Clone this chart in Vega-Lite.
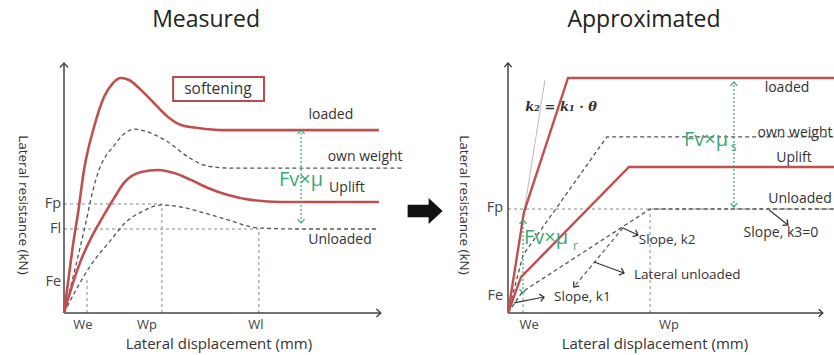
{
  "$schema": "https://vega.github.io/schema/vega-lite/v6.json",
  "autosize": {"type": "pad"},
  "padding": 0,
  "background": "white",
  "config": {"view": {"stroke": null}, "font": "Open Sans"},
  "spacing": 124,
  "bounds": "flush",
  "hconcat": [
    {
      "width": 320,
      "height": 253,
      "encoding": {
        "x": {"field": "x", "type": "quantitative", "scale": {"domain": [0, 100], "nice": false, "zero": false}, "axis": null},
        "y": {"field": "y", "type": "quantitative", "scale": {"domain": [0, 100], "nice": false, "zero": false}, "axis": null}
      },
      "layer": [
        {
          "data": {"values": [{"x": -19.69, "y": 123.4, "x2": -19.4, "y2": 123.7}]},
          "mark": {"type": "rect", "opacity": 0},
          "encoding": {"x2": {"field": "x2"}, "y2": {"field": "y2"}}
        },
        {
          "data": {"values": [
            {"x": 0, "y": 43.1, "x2": 30.6, "y2": 43.1},
            {"x": 0, "y": 33.2, "x2": 60.9, "y2": 33.2},
            {"x": 7.2, "y": 0, "x2": 7.2, "y2": 13},
            {"x": 30.6, "y": 0, "x2": 30.6, "y2": 43.1},
            {"x": 60.9, "y": 0, "x2": 60.9, "y2": 33.2}
          ]},
          "mark": {"type": "rule", "color": "#7d8a99", "strokeDash": [3, 3], "strokeWidth": 1},
          "encoding": {"x2": {"field": "x2"}, "y2": {"field": "y2"}}
        },
        {
          "data": {"values": [
            {"x": 0, "y": 0, "x2": 0, "y2": 98.8},
            {"x": 0, "y": 0, "x2": 99, "y2": 0}
          ]},
          "mark": {"type": "rule", "color": "#444", "strokeWidth": 1.5},
          "encoding": {"x2": {"field": "x2"}, "y2": {"field": "y2"}}
        },
        {
          "data": {"values": [
            {"x": 0, "y": 98.8, "a": 0},
            {"x": 99, "y": 0, "a": 90}
          ]},
          "mark": {"type": "point", "shape": "M-1,1.1L0,0L1,1.1", "size": 64, "filled": false, "color": "#444", "strokeWidth": 1.4, "opacity": 1},
          "encoding": {"angle": {"field": "a", "type": "quantitative", "scale": null}}
        },
        {
          "data": {"values": [
            {"c": "own weight", "i": 0, "x": 0, "y": 0},
            {"c": "own weight", "i": 1, "x": 3.75, "y": 19.0},
            {"c": "own weight", "i": 2, "x": 6.88, "y": 36.0},
            {"c": "own weight", "i": 3, "x": 9.06, "y": 48.6},
            {"c": "own weight", "i": 4, "x": 10.9, "y": 56.5},
            {"c": "own weight", "i": 5, "x": 13.1, "y": 62.1},
            {"c": "own weight", "i": 6, "x": 15.3, "y": 65.6},
            {"c": "own weight", "i": 7, "x": 18.4, "y": 70.4},
            {"c": "own weight", "i": 8, "x": 21.9, "y": 72.7},
            {"c": "own weight", "i": 9, "x": 26.25, "y": 71.5},
            {"c": "own weight", "i": 10, "x": 32.5, "y": 67.6},
            {"c": "own weight", "i": 11, "x": 38.75, "y": 61.7},
            {"c": "own weight", "i": 12, "x": 43.75, "y": 58.5},
            {"c": "own weight", "i": 13, "x": 51.25, "y": 57.3},
            {"c": "own weight", "i": 14, "x": 105.9, "y": 57.3},
            {"c": "unloaded", "i": 0, "x": 0, "y": 0},
            {"c": "unloaded", "i": 1, "x": 3.75, "y": 9.1},
            {"c": "unloaded", "i": 2, "x": 8.44, "y": 19.0},
            {"c": "unloaded", "i": 3, "x": 14.7, "y": 28.9},
            {"c": "unloaded", "i": 4, "x": 19.4, "y": 36.0},
            {"c": "unloaded", "i": 5, "x": 24.1, "y": 39.9},
            {"c": "unloaded", "i": 6, "x": 30.6, "y": 42.7},
            {"c": "unloaded", "i": 7, "x": 36.6, "y": 41.9},
            {"c": "unloaded", "i": 8, "x": 42.8, "y": 39.9},
            {"c": "unloaded", "i": 9, "x": 51.25, "y": 36.8},
            {"c": "unloaded", "i": 10, "x": 60.9, "y": 33.6},
            {"c": "unloaded", "i": 11, "x": 74.1, "y": 33.2},
            {"c": "unloaded", "i": 12, "x": 98.4, "y": 33.2}
          ]},
          "mark": {"type": "line", "interpolate": "monotone", "color": "#555", "strokeDash": [4, 3], "strokeWidth": 1.3},
          "encoding": {"detail": {"field": "c"}, "order": {"field": "i", "type": "quantitative"}}
        },
        {
          "data": {"values": [
            {"c": "loaded", "i": 0, "x": 0, "y": 0},
            {"c": "loaded", "i": 1, "x": 1.56, "y": 15.0},
            {"c": "loaded", "i": 2, "x": 2.81, "y": 26.9},
            {"c": "loaded", "i": 3, "x": 4.38, "y": 39.5},
            {"c": "loaded", "i": 4, "x": 6.25, "y": 56.5},
            {"c": "loaded", "i": 5, "x": 9.38, "y": 73.5},
            {"c": "loaded", "i": 6, "x": 12.5, "y": 85.4},
            {"c": "loaded", "i": 7, "x": 15.3, "y": 90.9},
            {"c": "loaded", "i": 8, "x": 17.8, "y": 92.9},
            {"c": "loaded", "i": 9, "x": 20.3, "y": 92.1},
            {"c": "loaded", "i": 10, "x": 24.1, "y": 88.1},
            {"c": "loaded", "i": 11, "x": 28.1, "y": 83.0},
            {"c": "loaded", "i": 12, "x": 32.5, "y": 77.5},
            {"c": "loaded", "i": 13, "x": 36.6, "y": 74.3},
            {"c": "loaded", "i": 14, "x": 41.9, "y": 73.1},
            {"c": "loaded", "i": 15, "x": 50, "y": 72.3},
            {"c": "loaded", "i": 16, "x": 98.4, "y": 72.3},
            {"c": "uplift", "i": 0, "x": 0, "y": 0},
            {"c": "uplift", "i": 1, "x": 2.81, "y": 11.9},
            {"c": "uplift", "i": 2, "x": 5.31, "y": 20.9},
            {"c": "uplift", "i": 3, "x": 8.44, "y": 29.6},
            {"c": "uplift", "i": 4, "x": 11.6, "y": 36.8},
            {"c": "uplift", "i": 5, "x": 15.3, "y": 44.7},
            {"c": "uplift", "i": 6, "x": 18.75, "y": 51.4},
            {"c": "uplift", "i": 7, "x": 24.1, "y": 55.7},
            {"c": "uplift", "i": 8, "x": 29.4, "y": 56.5},
            {"c": "uplift", "i": 9, "x": 34.4, "y": 55.3},
            {"c": "uplift", "i": 10, "x": 39.7, "y": 52.6},
            {"c": "uplift", "i": 11, "x": 45, "y": 49.4},
            {"c": "uplift", "i": 12, "x": 51.25, "y": 46.6},
            {"c": "uplift", "i": 13, "x": 58.4, "y": 44.7},
            {"c": "uplift", "i": 14, "x": 67.8, "y": 43.9},
            {"c": "uplift", "i": 15, "x": 98.4, "y": 43.9}
          ]},
          "mark": {"type": "line", "interpolate": "monotone", "color": "#c0504d", "strokeWidth": 2.6},
          "encoding": {"detail": {"field": "c"}, "order": {"field": "i", "type": "quantitative"}}
        },
        {
          "data": {"values": [{"x": 74.1, "y": 35.6, "x2": 74.1, "y2": 72.3}]},
          "mark": {"type": "rule", "color": "#3aa876", "strokeDash": [2, 2], "strokeWidth": 1.2},
          "encoding": {"x2": {"field": "x2"}, "y2": {"field": "y2"}}
        },
        {
          "data": {"values": [{"x": 74.1, "y": 72.3, "a": 0}, {"x": 74.1, "y": 35.6, "a": 180}]},
          "mark": {"type": "point", "shape": "M-1,1.1L0,0L1,1.1", "size": 49, "filled": false, "color": "#3aa876", "strokeWidth": 1.2, "opacity": 1},
          "encoding": {"angle": {"field": "a", "type": "quantitative", "scale": null}}
        },
        {
          "data": {"values": [{"x": 34.1, "y": 83.8, "x2": 62.5, "y2": 93.3}]},
          "mark": {"type": "rect", "fill": "white", "stroke": "#b94a50", "strokeWidth": 2},
          "encoding": {"x2": {"field": "x2"}, "y2": {"field": "y2"}}
        },
        {
          "data": {"values": [{"x": 48.1, "y": 88.5, "t": "softening"}]},
          "mark": {"type": "text", "fontSize": 15.5, "color": "#333", "align": "center", "baseline": "middle"},
          "encoding": {"text": {"field": "t"}}
        },
        {
          "data": {"values": [
            {"x": 83.4, "y": 78.3, "t": "loaded"},
            {"x": 94.1, "y": 61.7, "t": "own weight"},
            {"x": 88.4, "y": 49.4, "t": "Uplift"},
            {"x": 86.25, "y": 28.9, "t": "Unloaded"}
          ]},
          "mark": {"type": "text", "fontSize": 14, "color": "#333", "align": "center", "baseline": "middle"},
          "encoding": {"text": {"field": "t"}}
        },
        {
          "data": {"values": [{"x": 67.2, "y": 52.6, "t": "Fv×μ"}]},
          "mark": {"type": "text", "fontSize": 20, "color": "#3aa876", "align": "left", "baseline": "middle"},
          "encoding": {"text": {"field": "t"}}
        },
        {
          "data": {"values": [
            {"x": -0.9, "y": 43.1, "t": "Fp"},
            {"x": -0.9, "y": 33.2, "t": "Fl"},
            {"x": -0.9, "y": 12.3, "t": "Fe"}
          ]},
          "mark": {"type": "text", "fontSize": 14.5, "color": "#444", "align": "right", "baseline": "middle"},
          "encoding": {"text": {"field": "t"}}
        },
        {
          "data": {"values": [
            {"x": 5.9, "y": -4.9, "t": "We"},
            {"x": 25.9, "y": -4.9, "t": "Wp"},
            {"x": 60, "y": -4.9, "t": "Wl"}
          ]},
          "mark": {"type": "text", "fontSize": 13, "color": "#444", "align": "center", "baseline": "middle"},
          "encoding": {"text": {"field": "t"}}
        },
        {
          "data": {"values": [{"x": 48.4, "y": -12.4, "t": "Lateral displacement (mm)"}]},
          "mark": {"type": "text", "fontSize": 15, "color": "#333", "align": "center", "baseline": "middle"},
          "encoding": {"text": {"field": "t"}}
        },
        {
          "data": {"values": [{"x": -12.8, "y": 42.7, "t": "Lateral resistance (kN)"}]},
          "mark": {"type": "text", "fontSize": 13.5, "color": "#333", "align": "center", "baseline": "middle", "angle": 90},
          "encoding": {"text": {"field": "t"}}
        },
        {
          "data": {"values": [{"x": 44.4, "y": 115.8, "t": "Measured"}]},
          "mark": {"type": "text", "fontSize": 23, "color": "#222", "align": "center", "baseline": "middle"},
          "encoding": {"text": {"field": "t"}}
        }
      ]
    },
    {
      "width": 327,
      "height": 253,
      "encoding": {
        "x": {"field": "x", "type": "quantitative", "scale": {"domain": [0, 102.2], "nice": false, "zero": false}, "axis": null},
        "y": {"field": "y", "type": "quantitative", "scale": {"domain": [0, 100], "nice": false, "zero": false}, "axis": null}
      },
      "layer": [
        {
          "data": {"values": [
            {"x": 0, "y": 41.1, "x2": 102.2, "y2": 41.1},
            {"x": 4.7, "y": 0, "x2": 4.7, "y2": 8.3},
            {"x": 44.4, "y": 0, "x2": 44.4, "y2": 41.1}
          ]},
          "mark": {"type": "rule", "color": "#7d8a99", "strokeDash": [3, 3], "strokeWidth": 1},
          "encoding": {"x2": {"field": "x2"}, "y2": {"field": "y2"}}
        },
        {
          "data": {"values": [{"x": 0, "y": 0, "x2": 11.56, "y2": 92.1}]},
          "mark": {"type": "rule", "color": "#bbbbbb", "strokeWidth": 1},
          "encoding": {"x2": {"field": "x2"}, "y2": {"field": "y2"}}
        },
        {
          "data": {"values": [
            {"x": 0, "y": 0, "x2": 0, "y2": 98.8},
            {"x": 0, "y": 0, "x2": 98.4, "y2": 0}
          ]},
          "mark": {"type": "rule", "color": "#444", "strokeWidth": 1.5},
          "encoding": {"x2": {"field": "x2"}, "y2": {"field": "y2"}}
        },
        {
          "data": {"values": [
            {"c": "own weight", "i": 0, "x": 0, "y": 0},
            {"c": "own weight", "i": 1, "x": 4.7, "y": 22.9},
            {"c": "own weight", "i": 2, "x": 30.9, "y": 69.6},
            {"c": "own weight", "i": 3, "x": 102, "y": 69.6},
            {"c": "unloaded", "i": 0, "x": 0, "y": 0},
            {"c": "unloaded", "i": 1, "x": 4.4, "y": 8.3},
            {"c": "unloaded", "i": 2, "x": 44.4, "y": 41.1},
            {"c": "unloaded", "i": 3, "x": 102.2, "y": 41.1}
          ]},
          "mark": {"type": "line", "color": "#555", "strokeDash": [4, 3], "strokeWidth": 1.3},
          "encoding": {"detail": {"field": "c"}, "order": {"field": "i", "type": "quantitative"}}
        },
        {
          "data": {"values": [{"x": 35.9, "y": 33.6, "x2": 20.6, "y2": 10.3}]},
          "mark": {"type": "rule", "color": "#555", "strokeDash": [4, 3], "strokeWidth": 1.2},
          "encoding": {"x2": {"field": "x2"}, "y2": {"field": "y2"}}
        },
        {
          "data": {"values": [
            {"x": 81.6, "y": 40.7, "x2": 87.5, "y2": 34.8},
            {"x": 35.9, "y": 33.6, "x2": 40.6, "y2": 30.8},
            {"x": 26.9, "y": 20.2, "x2": 36.25, "y2": 15.8},
            {"x": 1.9, "y": 4.0, "x2": 11.25, "y2": 6.3}
          ]},
          "mark": {"type": "rule", "color": "#333", "strokeWidth": 1.1},
          "encoding": {"x2": {"field": "x2"}, "y2": {"field": "y2"}}
        },
        {
          "data": {"values": [
            {"c": "loaded", "i": 0, "x": 0, "y": 0},
            {"c": "loaded", "i": 1, "x": 5, "y": 39.9},
            {"c": "loaded", "i": 2, "x": 18.75, "y": 92.9},
            {"c": "loaded", "i": 3, "x": 102.2, "y": 92.9},
            {"c": "uplift", "i": 0, "x": 0, "y": 0},
            {"c": "uplift", "i": 1, "x": 4.06, "y": 14.2},
            {"c": "uplift", "i": 2, "x": 37.8, "y": 57.7},
            {"c": "uplift", "i": 3, "x": 102.2, "y": 57.7}
          ]},
          "mark": {"type": "line", "color": "#c0504d", "strokeWidth": 2.4},
          "encoding": {"detail": {"field": "c"}, "order": {"field": "i", "type": "quantitative"}}
        },
        {
          "data": {"values": [
            {"x": 0, "y": 98.8, "a": 0},
            {"x": 98.4, "y": 0, "a": 90},
            {"x": 87.5, "y": 34.8, "a": 128},
            {"x": 40.6, "y": 30.8, "a": 115},
            {"x": 36.25, "y": 15.8, "a": 110},
            {"x": 11.25, "y": 6.3, "a": 79},
            {"x": 20.6, "y": 10.3, "a": 220}
          ]},
          "mark": {"type": "point", "shape": "M-1,1.1L0,0L1,1.1", "size": 56, "filled": false, "color": "#333", "strokeWidth": 1.3, "opacity": 1},
          "encoding": {"angle": {"field": "a", "type": "quantitative", "scale": null}}
        },
        {
          "data": {"values": [
            {"x": 4.7, "y": 7.9, "x2": 4.7, "y2": 36.8},
            {"x": 70.6, "y": 41.9, "x2": 70.6, "y2": 91.3}
          ]},
          "mark": {"type": "rule", "color": "#3aa876", "strokeDash": [2, 2], "strokeWidth": 1.2},
          "encoding": {"x2": {"field": "x2"}, "y2": {"field": "y2"}}
        },
        {
          "data": {"values": [
            {"x": 4.7, "y": 36.8, "a": 0},
            {"x": 4.7, "y": 7.9, "a": 180},
            {"x": 70.6, "y": 91.3, "a": 0},
            {"x": 70.6, "y": 41.9, "a": 180}
          ]},
          "mark": {"type": "point", "shape": "M-1,1.1L0,0L1,1.1", "size": 49, "filled": false, "color": "#3aa876", "strokeWidth": 1.2, "opacity": 1},
          "encoding": {"angle": {"field": "a", "type": "quantitative", "scale": null}}
        },
        {
          "data": {"values": [{"x": -25.9, "y": 40.3}]},
          "mark": {"type": "point", "shape": "M-1,-0.36L0.2,-0.36L0.2,-0.74L1,0L0.2,0.74L0.2,0.36L-1,0.36Z", "size": 1225, "filled": true, "color": "#111", "opacity": 1}
        },
        {
          "data": {"values": [
            {"x": 87.2, "y": 88.9, "t": "loaded"},
            {"x": 89.7, "y": 71.1, "t": "own weight"},
            {"x": 89.4, "y": 61.3, "t": "Uplift"},
            {"x": 91.25, "y": 45.1, "t": "Unloaded"},
            {"x": 85.3, "y": 31.6, "t": "Slope, k3=0"}
          ]},
          "mark": {"type": "text", "fontSize": 14, "color": "#333", "align": "center", "baseline": "middle"},
          "encoding": {"text": {"field": "t"}}
        },
        {
          "data": {"values": [
            {"x": 40.9, "y": 28.9, "t": "Slope, k2"},
            {"x": 39.4, "y": 15.0, "t": "Lateral unloaded"},
            {"x": 14.4, "y": 6.3, "t": "Slope, k1"}
          ]},
          "mark": {"type": "text", "fontSize": 13.5, "color": "#333", "align": "left", "baseline": "middle"},
          "encoding": {"text": {"field": "t"}}
        },
        {
          "data": {"values": [{"x": 16.6, "y": 81.4, "t": "k₂ = k₁ · θ"}]},
          "mark": {"type": "text", "font": "DejaVu Serif", "fontStyle": "italic", "fontWeight": "bold", "fontSize": 13, "color": "#333", "align": "center", "baseline": "middle"},
          "encoding": {"text": {"field": "t"}}
        },
        {
          "data": {"values": [
            {"x": 55, "y": 68.4, "t": "Fv×μ"},
            {"x": 5, "y": 29.6, "t": "Fv×μ"}
          ]},
          "mark": {"type": "text", "fontSize": 20, "color": "#3aa876", "align": "left", "baseline": "middle"},
          "encoding": {"text": {"field": "t"}}
        },
        {
          "data": {"values": [
            {"x": 69.6, "y": 65.6, "t": "s"},
            {"x": 20.3, "y": 26.3, "t": "r"}
          ]},
          "mark": {"type": "text", "fontSize": 12, "color": "#3aa876", "align": "left", "baseline": "middle"},
          "encoding": {"text": {"field": "t"}}
        },
        {
          "data": {"values": [
            {"x": -1.5, "y": 41.5, "t": "Fp"},
            {"x": -1.5, "y": 6.7, "t": "Fe"}
          ]},
          "mark": {"type": "text", "fontSize": 14.5, "color": "#444", "align": "right", "baseline": "middle"},
          "encoding": {"text": {"field": "t"}}
        },
        {
          "data": {"values": [
            {"x": 6.6, "y": -4.9, "t": "We"},
            {"x": 50.3, "y": -4.9, "t": "Wp"}
          ]},
          "mark": {"type": "text", "fontSize": 13, "color": "#444", "align": "center", "baseline": "middle"},
          "encoding": {"text": {"field": "t"}}
        },
        {
          "data": {"values": [{"x": 45.9, "y": -12.4, "t": "Lateral displacement (mm)"}]},
          "mark": {"type": "text", "fontSize": 15, "color": "#333", "align": "center", "baseline": "middle"},
          "encoding": {"text": {"field": "t"}}
        },
        {
          "data": {"values": [{"x": -13.75, "y": 42.7, "t": "Lateral resistance (kN)"}]},
          "mark": {"type": "text", "fontSize": 13.5, "color": "#333", "align": "center", "baseline": "middle", "angle": 90},
          "encoding": {"text": {"field": "t"}}
        },
        {
          "data": {"values": [{"x": 42.5, "y": 115.8, "t": "Approximated"}]},
          "mark": {"type": "text", "fontSize": 23, "color": "#222", "align": "center", "baseline": "middle"},
          "encoding": {"text": {"field": "t"}}
        }
      ]
    }
  ]
}
